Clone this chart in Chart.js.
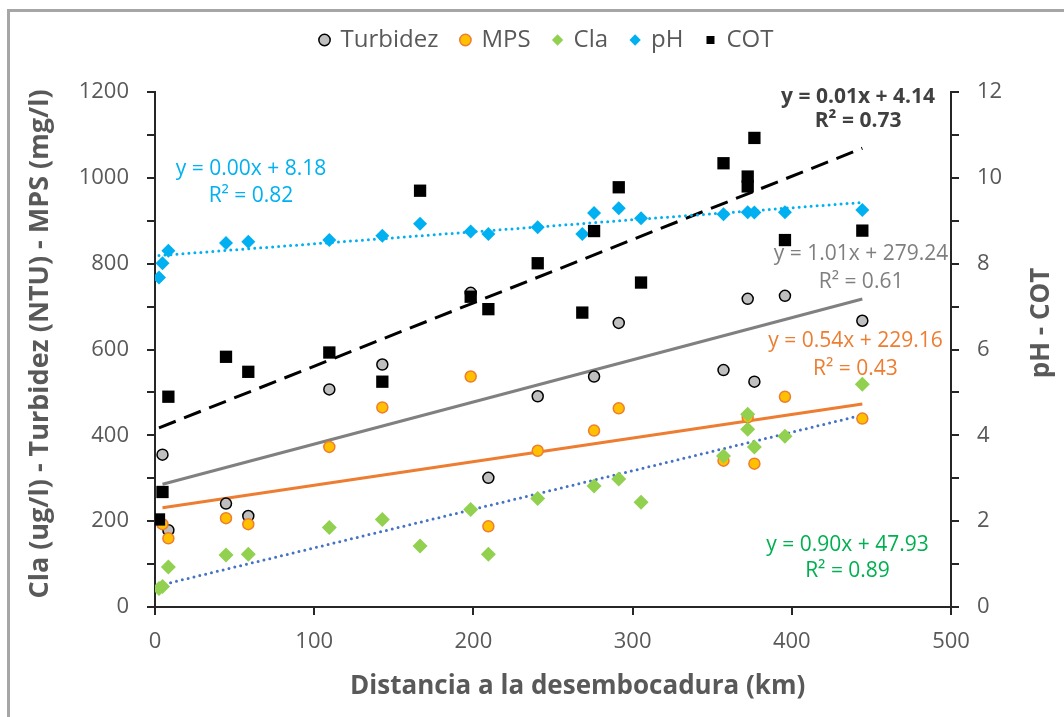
<!DOCTYPE html>
<html>
<head>
<meta charset="utf-8">
<script src="https://cdn.jsdelivr.net/npm/chart.js@4/dist/chart.umd.min.js"></script>
<style>
body{margin:0;background:#fff;}
#frame{position:absolute;left:7px;top:9px;width:1100px;height:800px;border-left:3px solid #a6a6a6;border-top:3px solid #a6a6a6;}
#c{position:absolute;left:0;top:0;}
</style>
</head>
<body>
<div id="frame"></div>
<canvas id="c" width="1064" height="717"></canvas>
<script>
const turbX = [4.7, 8.4, 44.6, 58.6, 109.5, 142.8, 198.3, 209.4, 240.4, 275.8, 291.3, 357.1, 372.3, 376.5, 395.7, 444.3];
const turbY = [355, 179, 241, 212, 507, 565, 732, 301, 491, 537, 662, 552, 718, 525, 725, 667];

const mpsX = [4.7, 8.4, 44.6, 58.6, 109.5, 142.8, 198.3, 209.4, 240.4, 275.8, 291.3, 357.1, 372.3, 376.5, 395.7, 444.3];
const mpsY = [193, 160, 207, 193, 373, 465, 537, 188, 364, 411, 463, 341, 442, 334, 490, 439];

const claX = [2.5, 4.7, 8.4, 44.6, 58.6, 109.5, 142.8, 166.5, 198.3, 209.4, 240.4, 275.8, 291.3, 305.3, 357.1, 372.3, 372.3, 376.5, 395.7, 444.3];
const claY = [43, 48, 93, 121, 123, 185, 204, 142, 227, 123, 253, 282, 298, 244, 352, 449, 414, 373, 398, 519];

const phX = [2.5, 4.7, 8.4, 44.6, 58.6, 109.5, 142.8, 166.5, 198.3, 209.4, 240.4, 268.4, 275.8, 291.3, 305.3, 357.1, 372.3, 376.5, 395.7, 444.3];
const phY = [7.68, 8.01, 8.30, 8.48, 8.51, 8.55, 8.65, 8.93, 8.75, 8.69, 8.85, 8.69, 9.18, 9.29, 9.06, 9.15, 9.20, 9.19, 9.20, 9.25];

const cotX = [2.5, 4.7, 8.4, 44.6, 58.6, 109.5, 142.8, 166.5, 198.3, 209.4, 240.4, 268.4, 275.8, 291.3, 305.3, 357.1, 372.3, 372.3, 376.5, 395.7, 444.3];
const cotY = [2.04, 2.68, 4.90, 5.83, 5.48, 5.93, 5.25, 9.70, 7.23, 6.94, 8.01, 6.86, 8.76, 9.78, 7.56, 10.34, 10.03, 9.80, 10.93, 8.55, 8.77];

const seriesNames = ['Turbidez', 'MPS', 'Cla', 'pH', 'COT'];
const eqTexts = [
  ['y = 1.01x + 279.24', 'R² = 0.61'],
  ['y = 0.54x + 229.16', 'R² = 0.43'],
  ['y = 0.90x + 47.93', 'R² = 0.89'],
  ['y = 0.00x + 8.18', 'R² = 0.82'],
  ['y = 0.01x + 4.14', 'R² = 0.73']
];

const xTitle = 'Distancia a la desembocadura (km)';
const yTitle = 'Cla (ug/l) - Turbidez (NTU) - MPS (mg/l)';
const y2Title = 'pH - COT';

const FONT = "'Open Sans', sans-serif";
const GREY = '#595959';
const AXIS = '#262626';

function pts(xs, ys) {
  return xs.map((x, i) => ({x: x, y: ys[i]}));
}

// least squares trendline, drawn over the range of the data (like excel)
function trend(xs, ys) {
  let n = xs.length, sx = 0, sy = 0, sxx = 0, sxy = 0;
  for (let i = 0; i < n; i++) {
    sx += xs[i]; sy += ys[i]; sxx += xs[i] * xs[i]; sxy += xs[i] * ys[i];
  }
  let b = (n * sxy - sx * sy) / (n * sxx - sx * sx);
  let a = (sy - b * sx) / n;
  let x0 = Math.min(...xs), x1 = Math.max(...xs);
  return [{x: x0, y: a + b * x0}, {x: x1, y: a + b * x1}];
}

function pointSet(label, xs, ys, axis, style, radius, fill, border, bw, order) {
  return {
    label: label, data: pts(xs, ys), yAxisID: axis, order: order,
    pointStyle: style, pointRadius: radius, pointHoverRadius: radius,
    pointBackgroundColor: fill, pointBorderColor: border, pointBorderWidth: bw,
    backgroundColor: fill, borderColor: border, borderWidth: bw
  };
}

function trendSet(xs, ys, axis, color, dash, cap, order) {
  return {
    label: 'trend', data: trend(xs, ys), yAxisID: axis, order: order,
    showLine: true, pointRadius: 0, borderColor: color, borderWidth: 3,
    borderDash: dash, borderCapStyle: cap, fill: false
  };
}

// equation label positions (data units on x / left y axis)
const eqPos = [
  {x: 443.5, y: [823, 757], color: '#7f7f7f', bold: false},
  {x: 440, y: [620, 555], color: '#ed7d31', bold: false},
  {x: 435, y: [144, 83], color: '#00b050', bold: false},
  {x: 60.3, y: [1021, 958], color: '#00b0f0', bold: false},
  {x: 441.6, y: [1189, 1133], color: '#404040', bold: true}
];

const textPlugin = {
  id: 'extraText',
  afterDraw(chart) {
    let ctx = chart.ctx;
    let xs = chart.scales.x, ys = chart.scales.y, a = chart.chartArea;
    ctx.save();
    ctx.textAlign = 'center';
    ctx.textBaseline = 'middle';
    eqPos.forEach((p, i) => {
      ctx.font = (p.bold ? 'bold ' : '') + '21px ' + FONT;
      ctx.fillStyle = p.color;
      ctx.fillText(eqTexts[i][0], xs.getPixelForValue(p.x), ys.getPixelForValue(p.y[0]));
      ctx.fillText(eqTexts[i][1], xs.getPixelForValue(p.x), ys.getPixelForValue(p.y[1]));
    });

    ctx.fillStyle = GREY;
    ctx.font = 'bold 26px ' + FONT;
    ctx.fillText(xTitle, a.left + (a.right - a.left) * 0.531, a.bottom + 80);

    ctx.save();
    ctx.font = 'bold 27px ' + FONT;
    ctx.translate(a.left - 115, a.top + 252);
    ctx.rotate(-Math.PI / 2);
    ctx.fillText(yTitle, 0, 0);
    ctx.restore();

    ctx.save();
    ctx.font = 'bold 26px ' + FONT;
    ctx.translate(a.right + 91, a.top + 231);
    ctx.rotate(-Math.PI / 2);
    ctx.fillText(y2Title, 0, 0);
    ctx.restore();
    ctx.restore();
  }
};

Chart.defaults.font.family = FONT;
Chart.defaults.color = GREY;

const grid = {drawOnChartArea: false, drawTicks: true, tickLength: 8, color: AXIS, lineWidth: 2};
const border = {color: AXIS, width: 2};

let chart = new Chart(document.getElementById('c').getContext('2d'), {
  type: 'scatter',
  data: {
    datasets: [
      pointSet(seriesNames[0], turbX, turbY, 'y', 'circle', 5.5, '#bfbfbf', '#000000', 1.5, 5),
      pointSet(seriesNames[1], mpsX, mpsY, 'y', 'circle', 5.5, '#ffc000', '#ed7d31', 1.5, 4),
      pointSet(seriesNames[2], claX, claY, 'y', 'rectRot', 7.5, '#92d050', '#92d050', 0, 3),
      pointSet(seriesNames[3], phX, phY, 'y2', 'rectRot', 7, '#00b0f0', '#00b0f0', 0, 2),
      pointSet(seriesNames[4], cotX, cotY, 'y2', 'rect', 8.7, '#000000', '#000000', 0, 1),
      trendSet(turbX, turbY, 'y', '#808080', [], 'butt', 10),
      trendSet(mpsX, mpsY, 'y', '#ed7d31', [], 'butt', 10),
      trendSet(claX, claY, 'y', '#4472c4', [0, 6], 'round', 10),
      trendSet(phX, phY, 'y2', '#00b0f0', [0, 6], 'round', 10),
      trendSet(cotX, cotY, 'y2', '#000000', [18, 9], 'butt', 10)
    ]
  },
  options: {
    responsive: false,
    animation: false,
    devicePixelRatio: 1,
    layout: {padding: {top: 5, left: 30, right: 0, bottom: 0}},
    plugins: {
      tooltip: {enabled: false},
      legend: {
        position: 'top',
        labels: {
          usePointStyle: true, boxWidth: 8, boxHeight: 8, padding: 23,
          color: GREY, font: {size: 24},
          filter: item => item.datasetIndex < 5,
          sort: (p, q) => p.datasetIndex - q.datasetIndex
        }
      }
    },
    scales: {
      x: {
        type: 'linear', position: 'bottom', min: 0, max: 500,
        ticks: {stepSize: 100, color: GREY, font: {size: 22}, padding: 14},
        grid: grid, border: border,
        afterFit: s => { s.height = 110; }
      },
      xTop: {
        type: 'linear', position: 'top', display: true,
        grid: {display: false, drawTicks: false}, border: {display: false},
        ticks: {display: false},
        afterFit: s => { s.height = 30; }
      },
      y: {
        type: 'linear', position: 'left', min: 0, max: 1200,
        ticks: {stepSize: 100, autoSkip: false, color: GREY, font: {size: 22}, padding: 18,
          callback: v => (v % 200 === 0 ? v : '')},
        grid: grid, border: border,
        afterFit: s => { s.width = 125; }
      },
      y2: {
        type: 'linear', position: 'right', min: 0, max: 12,
        ticks: {stepSize: 1, autoSkip: false, color: GREY, font: {size: 22}, padding: 18,
          callback: v => (v % 2 === 0 ? v : '')},
        grid: grid, border: border,
        afterFit: s => { s.width = 113; }
      }
    }
  },
  plugins: [textPlugin]
});
</script>
</body>
</html>
